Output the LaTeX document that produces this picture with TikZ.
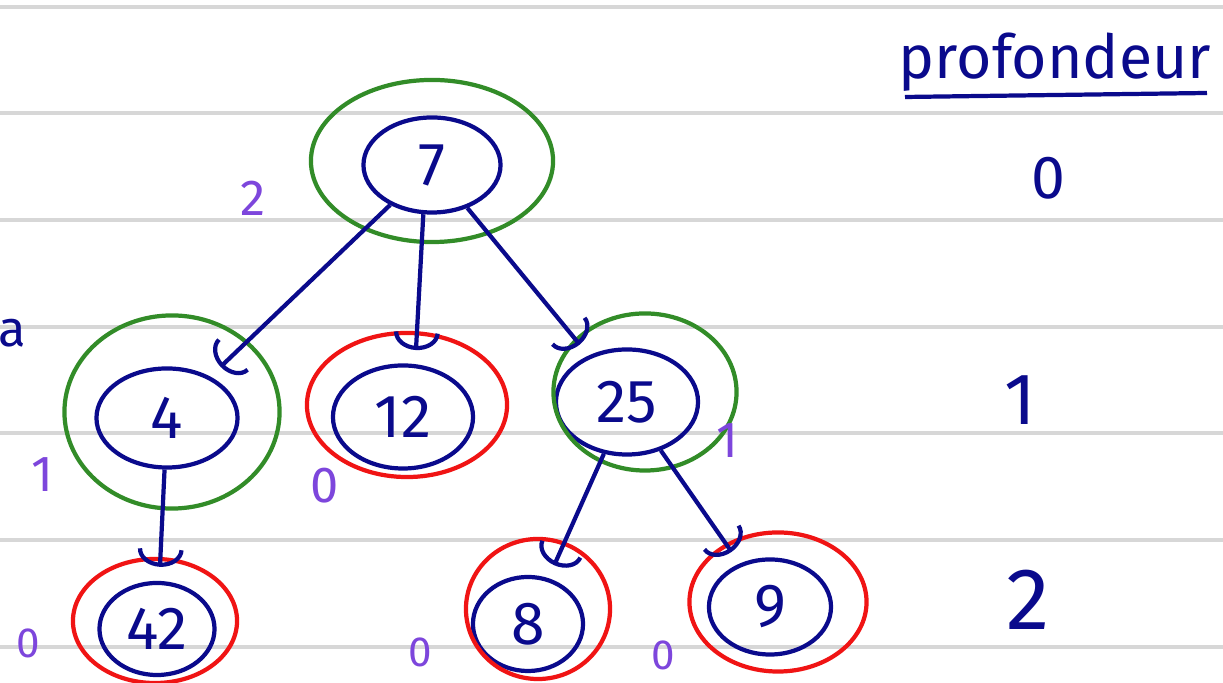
\documentclass[tikz,border=0pt]{standalone}
\usepackage{fontspec}
\setmainfont{Fira Sans}
\usetikzlibrary{arrows.meta, positioning, shapes.geometric}
\definecolor{inkblue}{RGB}{10, 10, 140}
\definecolor{inkgreen}{RGB}{50, 140, 40}
\definecolor{inkred}{RGB}{240, 20, 20}
\definecolor{inkpurple}{RGB}{125, 70, 220}
\definecolor{ruleline}{RGB}{215, 215, 215}

\begin{document}
\begin{tikzpicture}[
      x=0.01cm, y=-0.01cm,
      key/.style={ellipse, draw=inkblue, line width=1.2pt, inner sep=0pt, font=\LARGE, text=inkblue},
      ring/.style={ellipse, line width=1.2pt, inner sep=0pt},
      internal/.style={ring, draw=inkgreen},
      leafring/.style={ring, draw=inkred},
      hgt/.style={text=inkpurple, font=\Large},
      depth/.style={text=inkblue, font=\huge},
      arr/.style={-{Arc Barb[length=5pt, width=13pt]}, inkblue, line width=1.2pt, shorten >=4pt}
    ]
      \useasboundingbox[fill=white] (0,0) rectangle (1223,683);
      \foreach \y in {7,113,220,327,433,540,647}
        \draw[ruleline, line width=0.9pt] (0,\y) -- (1223,\y);

      % keys
      \node[key, minimum width=1.37cm, minimum height=0.95cm] (k7) at (432,165) {7};
      \node[key, minimum width=1.41cm, minimum height=0.99cm] (k4) at (167,418) {4};
      \node[key, minimum width=1.40cm, minimum height=1.03cm] (k12) at (403,417) {12};
      \node[key, minimum width=1.42cm, minimum height=1.05cm] (k25) at (627,402) {25};
      \node[key, minimum width=1.15cm, minimum height=0.92cm] (k42) at (157,629) {42};
      \node[key, minimum width=1.10cm, minimum height=0.94cm] (k8) at (528,624) {8};
      \node[key, minimum width=1.22cm, minimum height=0.95cm] (k9) at (770,607) {9};

      % rings
      \node[internal, minimum width=2.42cm, minimum height=1.62cm] (r7) at (432,161) {};
      \node[internal, minimum width=2.15cm, minimum height=1.93cm] (r4) at (172,412) {};
      \node[leafring, minimum width=2.00cm, minimum height=1.44cm] (r12) at (407,405) {};
      \node[internal, minimum width=1.83cm, minimum height=1.57cm] (r25) at (645,392) {};
      \node[leafring, minimum width=1.64cm, minimum height=1.24cm] (r42) at (155,621) {};
      \node[leafring, minimum width=1.44cm, minimum height=1.40cm] (r8) at (538,609) {};
      \node[leafring, minimum width=1.77cm, minimum height=1.39cm] (r9) at (778,602) {};

      \draw[arr] (k7) -- (k4);
      \draw[arr] (k7.-100) -- (k12.77);
      \draw[arr] (k7) -- (k25);
      \draw[arr] (k4) -- (k42);
      \draw[arr] (k25) -- (k8);
      \draw[arr] (k25) -- (k9);

      % heights
      \node[hgt] (h7) at (253,198) {2};
      \node[hgt] (h4) at (42,475) {1};
      \node[hgt] (h12) at (325,486) {0};
      \node[hgt] (h25) at (727,441) {1};
      \node[hgt, font=\large] (h42) at (28,643) {0};
      \node[hgt, font=\large] (h8) at (420,652) {0};
      \node[hgt, font=\large] (h9) at (663,655) {0};

      \node[text=inkblue, font=\Large] (cut) at (12,333) {a};

      % depth column
      \node[text=inkblue, font=\LARGE] (prof) at (1055,62) {profondeur};
      \coordinate (ulstart) at (905,97);
      \coordinate (ulend) at (1207,93);
      \draw[inkblue, line width=1.2pt] (ulstart) -- (ulend);
      \node[depth, font=\LARGE] (d0) at (1048,178) {0};
      \node[depth] (d1) at (1020,400) {1};
      \node[depth, font=\Huge] (d2) at (1028,600) {2};
    \end{tikzpicture}
\end{document}
